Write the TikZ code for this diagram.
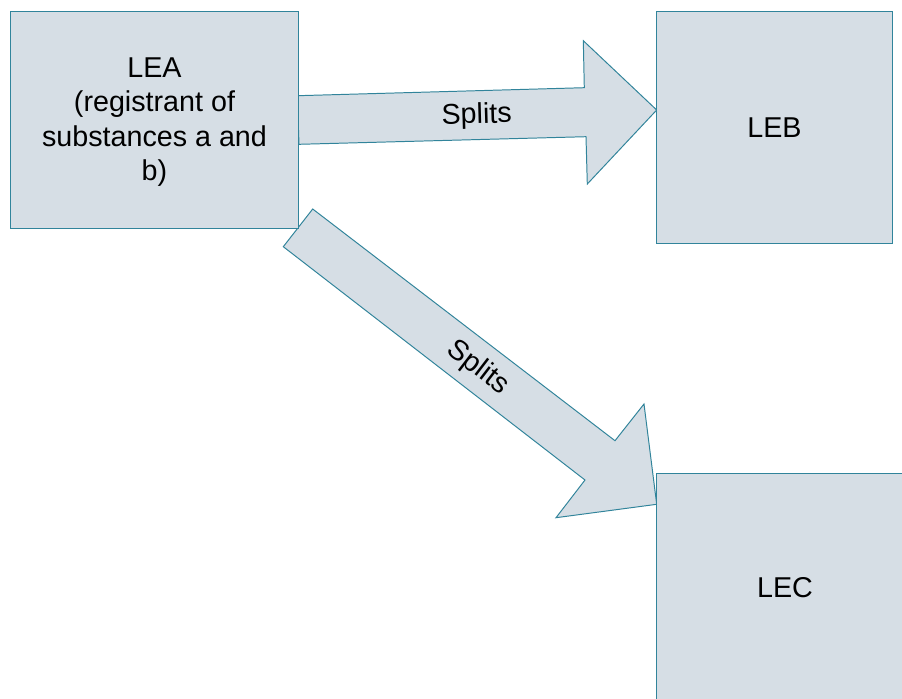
\documentclass[tikz,border=0pt]{standalone}
\usepackage{fontspec}
\setmainfont{Liberation Sans}
\usetikzlibrary{positioning}
\definecolor{boxfill}{RGB}{214,222,229}
\definecolor{boxline}{RGB}{49,132,155}

\begin{document}
\begin{tikzpicture}[x=0.025cm,y=-0.025cm]
      \tikzstyle{every node}=[font=\fontsize{20.4}{24.5}\selectfont]
      \tikzstyle{entity}=[draw=boxline,fill=boxfill,line width=0.7pt,align=center,inner sep=0pt]
      \tikzstyle{blockarrow}=[draw=boxline,fill=boxfill,line width=0.7pt,line join=miter]
      \clip (0,0) rectangle (902,698);
      % Split towards LEB
      \filldraw[blockarrow] (297.3,95.7) -- (584.3,87.7) -- (583.3,40.7) -- (656.7,110)
        -- (587.3,184) -- (586,136.7) -- (299,144.3) -- cycle;
      \node[rotate=1.6] (splitb) at (476.7,116) {Splits};
      % Split towards LEC
      \filldraw[blockarrow] (312.7,209) -- (615,440.7) -- (644,404) -- (656.7,504.3)
        -- (556,517.7) -- (585,480) -- (283.3,246.7) -- cycle;
      \node[rotate=-37.5] (splitc) at (478,368) {Splits};
      % Legal entities
      \node[entity,minimum width=7.175cm,minimum height=5.4cm] (lea) at (154.5,120) {};
      \node[align=center] (leatext) at (154.5,122) {LEA\\(registrant of\\substances a and\\b)};
      \node[entity,minimum width=5.875cm,minimum height=5.775cm] (leb) at (774.5,127.5) {LEB};
      \node[entity,minimum width=6.4cm,minimum height=5.7cm] (lec) at (785,588) {LEC};
\end{tikzpicture}
\end{document}
